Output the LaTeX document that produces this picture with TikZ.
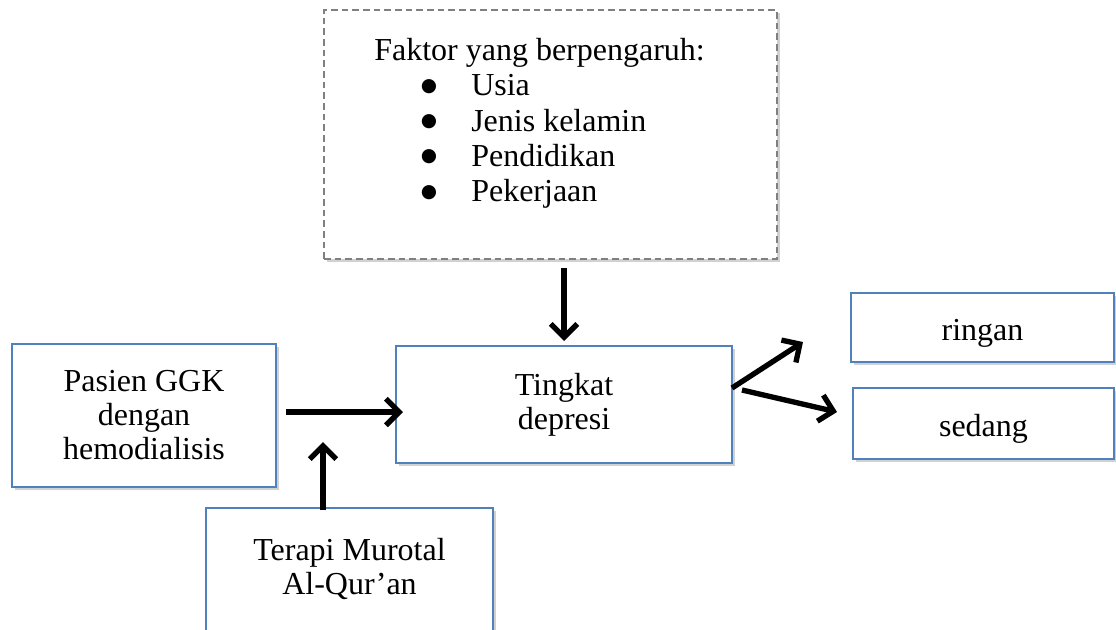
\documentclass[tikz,border=0pt]{standalone}
\usepackage{fontspec}
\setmainfont{Liberation Serif}
\newfontfamily\simbol{DejaVu Sans}
\usetikzlibrary{positioning,arrows.meta,shadows}
\definecolor{birukotak}{HTML}{4F81BD}
\definecolor{abuputus}{HTML}{808080}
\tikzset{
	kotak/.style={draw=birukotak, line width=1.5pt, fill=white, inner sep=0pt,
		drop shadow={shadow xshift=2.5pt, shadow yshift=-2.5pt, fill=black!18, opacity=1}},
	kotakputus/.style={kotak, draw=abuputus, dash pattern=on 5pt off 3pt},
	teks/.style={align=center, inner sep=0pt, font=\fontsize{24}{25.5}\selectfont},
	panah/.style={line width=4pt, -{Straight Barb[length=10pt,width=20pt]}},
}
\newcommand{\butir}{\hspace*{35pt}\makebox[37.75pt][l]{\raisebox{3.5pt}{\simbol\fontsize{14}{16}\selectfont ●}}}

\begin{document}
\begin{tikzpicture}[x=0.75pt, y=-0.75pt]
			%%%%% START %%%%%
			\useasboundingbox (0,0) rectangle (1116,629);
			\clip (0,0) rectangle (1116,629);
			
			% faktor yang berpengaruh
			\node[kotakputus, minimum width=339.75pt, minimum height=186.75pt] (faktor) at (550.5,134.5) {};
			\node[teks, align=left, anchor=north west, font=\fontsize{24}{26.5}\selectfont] (faktorteks) at (374,38)
				{Faktor yang berpengaruh:\\
				\butir Usia\\
				\butir Jenis kelamin\\
				\butir Pendidikan\\
				\butir Pekerjaan};
			
			% kotak utama
			\node[kotak, teks, minimum width=198pt, minimum height=107.25pt] (pasien) at (144,415.5) {Pasien GGK\\dengan\\hemodialisis};
			\node[kotak, teks, minimum width=252pt, minimum height=87.75pt] (tingkat) at (564,404.5) {Tingkat\\depresi};
			\node[kotak, teks, text height=20pt, text depth=0pt, minimum width=197.25pt, minimum height=51.75pt] (ringan) at (982.5,327.5) {ringan};
			\node[kotak, teks, text height=20pt, text depth=0pt, minimum width=195.75pt, minimum height=53.25pt] (sedang) at (983.5,423.5) {sedang};
			
			% terapi (terpotong di bawah)
			\node[kotak, anchor=north, minimum width=215.25pt, minimum height=129.75pt] (terapi) at (349.5,507) {};
			\node[teks, below=23.5pt of terapi.north] (terapiteks) {Terapi Murotal\\Al-Qur’an};
			
			% ujung panah
			\coordinate (p1a) at (286,412);
			\coordinate (p1b) at (403,412);
			\coordinate (p2a) at (323,510);
			\coordinate (p2b) at (323,442);
			\coordinate (p3a) at (564,268);
			\coordinate (p3b) at (564,341);
			\coordinate (p4a) at (732,388);
			\coordinate (p4b) at (803,342);
			\coordinate (p5a) at (742,390);
			\coordinate (p5b) at (837,412);
			
			\draw[panah] (p1a) -- (p1b);
			\draw[panah] (p2a) -- (p2b);
			\draw[panah] (p3a) -- (p3b);
			\draw[panah] (p4a) -- (p4b);
			\draw[panah] (p5a) -- (p5b);
			%%%%% END %%%%%
\end{tikzpicture}
\end{document}
